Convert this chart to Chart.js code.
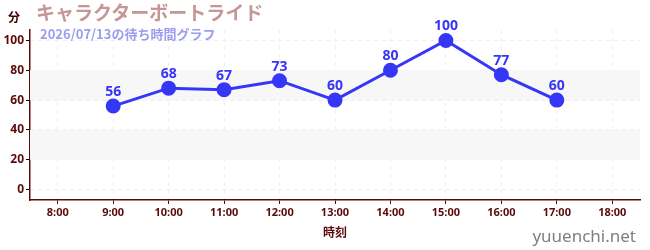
<!DOCTYPE html>
<html>
<head>
<meta charset="utf-8">
<script src="https://cdn.jsdelivr.net/npm/chart.js@4"></script>
<style>
  body { margin: 0; background: #fff; }
  #wrap { position: relative; width: 650px; height: 250px; }
  #title { position: absolute; left: 36px; top: -2px; font: bold 19px "Noto Sans CJK JP"; color: #c49696; }
  #sub { position: absolute; left: 40px; top: 24px; font: bold 13px "Noto Sans CJK JP"; color: #9c9cf0; }
  #unit { position: absolute; left: 8px; top: 8px; font: bold 12px "Noto Sans CJK JP"; color: #400000; }
  #site { position: absolute; right: 14px; top: 224px; font: 17px "Noto Sans"; color: #808080; }
</style>
</head>
<body>
<div id="wrap">
  <canvas id="chart" width="650" height="250"></canvas>
  <div id="unit">分</div>
  <div id="title">キャラクターボートライド</div>
  <div id="sub">2026/07/13の待ち時間グラフ</div>
  <div id="site">yuuenchi.net</div>
</div>
<script>
// hours shown on the x axis
var hours = ["8:00", "9:00", "10:00", "11:00", "12:00", "13:00", "14:00", "15:00", "16:00", "17:00", "18:00"]
// wait time in minutes, null where no data
var waits = [null, 56, 68, 67, 73, 60, 80, 100, 77, 60, null]
// y ticks, labelled every 20, small red marks in between
var yTicks = [0, 10, 20, 30, 40, 50, 60, 70, 80, 90, 100]
// shaded bands on the y axis
var bands = [[20, 40], [60, 80]]

var lineColor = "#3636f6"
var axisColor = "#5a0a0a"

// grey stripes behind the plot
var bandPlugin = {
  id: "bands",
  beforeDatasetsDraw: function(chart){
    var c = chart.ctx, y = chart.scales.y, a = chart.chartArea
    c.save()
    c.fillStyle = "#f7f7f7"
    bands.forEach(function(b){
      var top = y.getPixelForValue(b[1])
      var bot = y.getPixelForValue(b[0])
      c.fillRect(a.left, top, a.right - a.left, bot - top)
    })
    c.restore()
  }
}

// numbers above each point
var labelPlugin = {
  id: "pointLabels",
  afterDatasetsDraw: function(chart){
    var c = chart.ctx
    var meta = chart.getDatasetMeta(0)
    c.save()
    c.fillStyle = lineColor
    c.font = "bold 14px 'Noto Sans'"
    c.textAlign = "center"
    c.textBaseline = "bottom"
    meta.data.forEach(function(pt, i){
      if(waits[i] == null) return
      c.fillText(waits[i], pt.x, pt.y - 7)
    })
    c.restore()
  }
}

var ctx = document.getElementById("chart").getContext("2d")
var chart = new Chart(ctx, {
  type: "line",
  data: {
    labels: hours,
    datasets: [{
      data: waits,
      borderColor: lineColor,
      backgroundColor: lineColor,
      borderWidth: 3,
      pointRadius: 6,
      pointHoverRadius: 6,
      tension: 0
    }]
  },
  options: {
    responsive: false,
    animation: false,
    events: [],
    layout: { padding: { top: 30, right: 10, left: 0, bottom: 10 } },
    plugins: { legend: { display: false }, tooltip: { enabled: false } },
    scales: {
      x: {
        offset: true,
        border: { color: axisColor, width: 1.5, dash: [4, 4] },
        grid: { color: "#efefef", tickColor: axisColor, tickLength: 4, offset: false },
        ticks: { color: axisColor, font: { family: "Noto Sans", size: 11, weight: "bold" }, padding: 2, maxRotation: 0 },
        title: { display: true, text: "時刻", color: axisColor, font: { family: "Noto Sans CJK JP", size: 12, weight: "bold" }, padding: { top: 2, bottom: 0 } },
        afterFit: function(s){ s.height = 40 }
      },
      y: {
        min: -7,
        max: 107,
        border: { color: axisColor, width: 1.5, dash: [4, 4] },
        grid: {
          color: function(c){ return c.tick && c.tick.value % 20 == 0 ? "#efefef" : "rgba(0,0,0,0)" },
          tickColor: function(c){ return c.tick && c.tick.value % 20 == 0 ? "#000" : "#e00000" },
          tickLength: 4
        },
        ticks: {
          color: axisColor,
          padding: 2,
          font: { family: "Noto Sans", size: 12, weight: "bold" },
          callback: function(v){ return v % 20 == 0 ? v : "" }
        },
        afterBuildTicks: function(s){ s.ticks = yTicks.map(function(v){ return { value: v } }) },
        afterFit: function(s){ s.width = 30 }
      }
    }
  },
  plugins: [bandPlugin, labelPlugin]
})
</script>
</body>
</html>
